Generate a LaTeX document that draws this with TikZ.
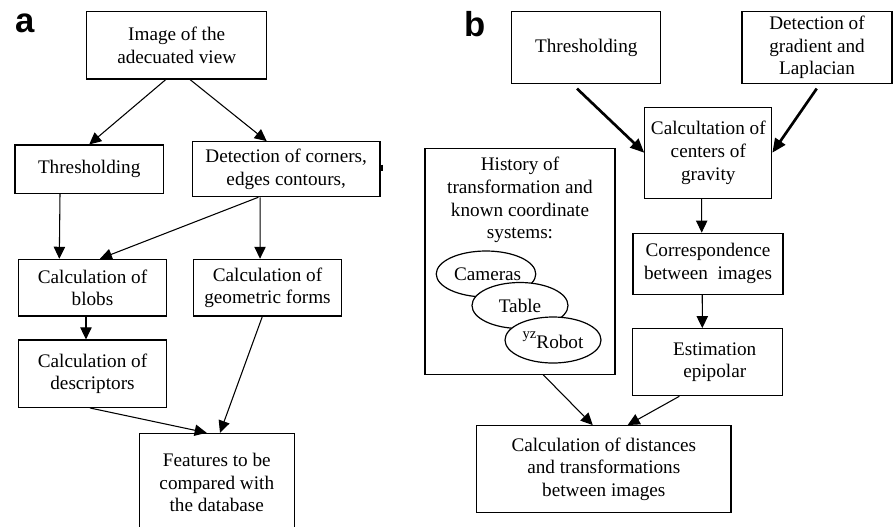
\documentclass[tikz,border=0pt]{standalone}
\usepackage{fontspec}
\setmainfont{Liberation Serif}
\newfontfamily\panelfont{Liberation Sans}
\usetikzlibrary{arrows.meta,shapes.geometric}

\begin{document}
\begin{tikzpicture}[x=0.75pt,y=0.75pt,yscale=-1,xscale=1,
  box/.style={draw,line width=0.9pt,align=center,inner sep=0pt,font=\fontsize{14.4}{17}\selectfont},
  oval/.style={draw,ellipse,fill=white,line width=0.9pt,inner sep=0pt,minimum width=72pt,minimum height=34.5pt,font=\fontsize{14.4}{17}\selectfont},
  txt/.style={align=center,inner sep=0pt,font=\fontsize{14.4}{17}\selectfont},
  arr/.style={line width=0.8pt,-{Triangle[length=9pt,width=8.5pt]}},
  heavyarr/.style={line width=2pt,-{Triangle[length=10.5pt,width=9pt]}},
  panel/.style={font=\panelfont\bfseries\fontsize{26}{26}\selectfont,inner sep=0pt,anchor=base}]
%uncomment if require: \path (0,526); %set diagram left start at 0, and has height of 526
\useasboundingbox (0,0) rectangle (896,526);

%%%% panel a
% Text Node
\node [panel] (lbla) at (25,32) {a};
% Boxes
\node [box,minimum width=135pt,minimum height=50.5pt] (img) at (176.7,45.3) {Image of the\\adecuated view};
\node [box,minimum width=111.2pt,minimum height=36.2pt] (thra) at (89.2,169.2) {Thresholding};
\node [box,minimum width=140.8pt,minimum height=41.2pt] (deta) at (286.2,169.2) {Detection of corners,\\edges contours,};
\node [box,minimum width=111.2pt,minimum height=42.5pt] (blobs) at (92.5,287.7) {Calculation of\\blobs};
\node [box,minimum width=111.2pt,minimum height=42.5pt] (geom) at (267.5,287.7) {Calculation of\\geometric forms};
\node [box,minimum width=111.2pt,minimum height=50.5pt] (desc) at (92.5,373.7) {Calculation of\\descriptors};
\node [box,minimum width=116.2pt,minimum height=74pt] (feat) at (216.8,482.7) {Features to be\\compared with\\the database};
% small mark on the border
\draw [line width=1.4pt] ([xshift=0.8pt,yshift=-3.5pt]deta.east) -- ([xshift=0.8pt,yshift=1.2pt]deta.east) ;

%Straight Lines
\draw [arr] ([xshift=-8.2pt]img.south) -- (thra.north) ;
\draw [arr] ([xshift=10pt]img.south) -- ([xshift=-14.6pt]deta.north) ;
\draw [arr] ([xshift=-21.9pt]thra.south) -- ([xshift=-24.9pt]blobs.north) ;
\draw [arr] ([xshift=-20.9pt]deta.south) -- ([xshift=5.6pt]blobs.north) ;
\draw [arr] ([xshift=-19.6pt]deta.south) -- ([xshift=-5.6pt]geom.north) ;
\draw [arr] ([xshift=-4.9pt]blobs.south) -- ([xshift=-4.9pt]desc.north) ;
\draw [arr] ([xshift=-1.9pt]desc.south) -- ([xshift=-7.6pt]feat.north) ;
\draw [arr] ([xshift=-3.9pt]geom.south) -- ([xshift=2.4pt]feat.north) ;

%%%% panel b
% Text Node
\node [panel] (lblb) at (475,36.5) {b};
% Boxes
\node [box,minimum width=111.8pt,minimum height=53.7pt] (thrb) at (586.3,47.5) {Thresholding};
\node [box,minimum width=112.5pt,minimum height=53.7pt] (grad) at (817,47.5) {Detection of\\gradient and\\Laplacian};
\node [box,minimum width=95.2pt,minimum height=68.2pt] (cog) at (708.3,152.7) {Calcultation of\\centers of\\gravity};
\node [box,minimum width=142.5pt,minimum height=169.5pt] (hist) at (520,261.3) {};
\node [txt] (histtxt) at (520,200) {History of\\transformation and\\known coordinate\\systems:};
\node [oval] (cam) at (486,274) {\,Cameras};
\node [oval] (tab) at (520,305.5) {Table};
\node [oval] (rob) at (553,340) {\raisebox{1.1ex}{\fontsize{11}{11}\selectfont yz}Robot};
\node [box,minimum width=112.5pt,minimum height=45.7pt] (corr) at (708,263.7) {Correspondence\\between\ \ images};
\node [box,minimum width=112.8pt,minimum height=50.2pt] (epi) at (707.5,362.2) {\ \ \ Estimation\\\ \ \ epipolar};
\node [box,minimum width=190.7pt,minimum height=65pt] (dist) at (603.8,469) {Calculation of distances\\and transformations\\between images};

%Straight Lines
\draw [heavyarr] ([xshift=-7pt,yshift=3.5pt]thrb.south) -- (cog.west) ;
\draw [heavyarr] ([xshift=-0.2pt,yshift=3.5pt]grad.south) -- (cog.east) ;
\draw [arr] ([xshift=-5pt]cog.south) -- ([xshift=-4.7pt]corr.north) ;
\draw [arr] ([xshift=-4.3pt]corr.south) -- ([xshift=-3.9pt]epi.north) ;
\draw [arr] ([xshift=17.5pt]hist.south) -- ([xshift=-8.3pt]dist.north) ;
\draw [arr] ([xshift=-21.1pt]epi.south) -- ([xshift=17.9pt]dist.north) ;

\end{tikzpicture}
\end{document}
